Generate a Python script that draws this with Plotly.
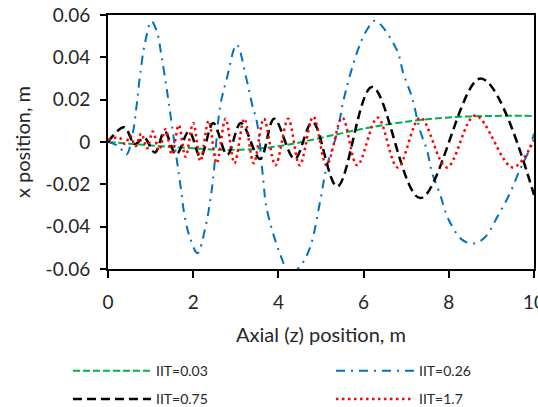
import plotly.graph_objects as go

# Axial position z (m) and transverse x position (m) for each IIT case
z_iit_003 = [0, 0.5, 1, 1.5, 2, 2.5, 3, 3.5, 4, 4.5, 5, 5.5, 6, 6.5, 7, 7.5, 8, 8.5, 9, 9.5, 10]
x_iit_003 = [0, -0.0008, -0.0016, -0.0024, -0.003, -0.0036, -0.0037, -0.0032, -0.002, -0.0002,
             0.002, 0.0042, 0.0063, 0.0081, 0.0096, 0.0108, 0.0116, 0.0121, 0.0123, 0.0124, 0.0123]

z_iit_026 = [0, 0.25, 0.43, 0.58, 0.67, 0.75, 0.87, 1.02, 1.15, 1.26, 1.38, 1.45, 1.69, 1.8, 1.92,
             2.1, 2.28, 2.39, 2.47, 2.63, 2.79, 3.02, 3.26, 3.38, 3.5, 3.65, 3.72, 4.04, 4.27, 4.5,
             4.74, 4.98, 5.13, 5.35, 5.47, 5.52, 5.84, 6.08, 6.27, 6.78, 6.93, 7.14, 7.32, 7.49,
             7.6, 7.8, 7.98, 8.3, 8.57, 8.85, 9.15, 9.44, 9.67, 9.86, 10]
x_iit_026 = [0, -0.002, -0.006, 0.004, 0.017, 0.031, 0.047, 0.057, 0.052, 0.040, 0.025, 0.015,
             -0.019, -0.035, -0.045, -0.0525, -0.041, -0.029, -0.017, 0.0166, 0.030, 0.046, 0.029,
             0.018, 0.009, -0.019, -0.031, -0.053, -0.062, -0.059, -0.050, -0.028, -0.012, 0.0024,
             0.0137, 0.019, 0.042, 0.053, 0.0573, 0.0435, 0.0326, 0.0208, 0.0057, -0.004, -0.014,
             -0.025, -0.036, -0.046, -0.048, -0.045, -0.035, -0.024, -0.013, -0.005, 0.004]

z_iit_075 = [0, 0.38, 0.63, 0.85, 1.1, 1.33, 1.6, 1.9, 2.17, 2.47, 2.8, 3.12, 3.57, 3.9, 4.38,
             4.8, 5.38, 6.2, 7.33, 8.75, 10]
x_iit_075 = [0, 0.007, -0.001, 0.002, -0.005, 0.005, -0.006, 0.005, -0.007, 0.009, -0.006, 0.009,
             -0.008, 0.011, -0.008, 0.0095, -0.021, 0.026, -0.0265, 0.030, -0.025]

z_iit_17 = [0, 0.27, 0.4, 0.52, 0.65, 0.78, 0.92, 1.05, 1.2, 1.35, 1.5, 1.66, 1.82, 2.0, 2.17,
            2.36, 2.55, 2.76, 2.97, 3.2, 3.42, 3.66, 3.93, 4.23, 4.5, 4.82, 5.13, 5.5, 5.85,
            6.33, 6.8, 7.33, 7.95, 8.62, 9.5, 10]
x_iit_17 = [0.001, 0.002, -0.001, 0.003, -0.002, 0.004, -0.003, 0.005, -0.004, 0.006, -0.006,
            0.008, -0.007, 0.009, -0.009, 0.010, -0.010, 0.011, -0.010, 0.011, -0.010, 0.011,
            -0.011, 0.011, -0.011, 0.012, -0.011, 0.0115, -0.011, 0.0115, -0.012, 0.0115,
            -0.012, 0.0125, -0.012, 0.001]

x_tick_vals = [0, 2, 4, 6, 8, 10]
x_tick_text = ["0", "2", "4", "6", "8", "10"]
y_tick_vals = [-0.06, -0.04, -0.02, 0, 0.02, 0.04, 0.06]
y_tick_text = ["-0.06", "-0.04", "-0.02", "0", "0.02", "0.04", "0.06"]

FONT = "Lato"
TEXT = "#262626"

# (label, z, x, colour, width, dash pattern, legend id)
series = [
    ("IIT=0.03", z_iit_003, x_iit_003, "#00B050", 2, "7px,3px", "legend"),
    ("IIT=0.26", z_iit_026, x_iit_026, "#0070C0", 2, "9px,6px,2px,6px", "legend2"),
    ("IIT=0.75", z_iit_075, x_iit_075, "#000000", 2.5, "9px,5px", "legend3"),
    ("IIT=1.7", z_iit_17, x_iit_17, "#FF0000", 2.5, "2.5px,3.5px", "legend4"),
]

fig = go.Figure()
for name, zs, xs, color, width, dash, leg in series:
    fig.add_trace(go.Scatter(
        x=zs, y=xs, name=name, mode="lines", legend=leg,
        line=dict(color=color, width=width, dash=dash, shape="spline", smoothing=1.0),
    ))

legend_common = dict(
    orientation="h", xanchor="left", yanchor="top",
    font=dict(family=FONT, size=14, color=TEXT),
    itemwidth=78, bgcolor="rgba(0,0,0,0)",
    itemclick=False, itemdoubleclick=False,
)
col1, col2 = -0.094, 0.5235
row1, row2 = -0.339, -0.45

fig.update_layout(
    width=538, height=407,
    margin=dict(l=108, r=4, t=15, b=138, pad=0, autoexpand=False),
    paper_bgcolor="white", plot_bgcolor="white",
    font=dict(family=FONT, color=TEXT),
    showlegend=True,
    legend=dict(x=col1, y=row1, **legend_common),
    legend2=dict(x=col2, y=row1, **legend_common),
    legend3=dict(x=col1, y=row2, **legend_common),
    legend4=dict(x=col2, y=row2, **legend_common),
    xaxis=dict(
        range=[0, 10], tickvals=x_tick_vals, ticktext=x_tick_text,
        ticks="outside", ticklen=7, tickwidth=2, tickcolor="black",
        showline=True, linecolor="black", linewidth=2, mirror=True,
        showgrid=False, zeroline=False, ticklabeloverflow="allow", automargin=False,
        tickfont=dict(family=FONT, size=19, color=TEXT),
        ticklabelstandoff=8,
        title=dict(text="Axial (z) position, m", font=dict(family=FONT, size=20, color=TEXT), standoff=16),
    ),
    yaxis=dict(
        range=[-0.06, 0.06], tickvals=y_tick_vals, ticktext=y_tick_text,
        ticks="outside", ticklen=6, tickwidth=2, tickcolor="black",
        showline=True, linecolor="black", linewidth=2, mirror=True,
        showgrid=False, zeroline=False, automargin=False,
        tickfont=dict(family=FONT, size=19, color=TEXT),
        ticklabelstandoff=6,
        title=dict(text="x position, m", font=dict(family=FONT, size=20, color=TEXT), standoff=10),
    ),
)

fig.write_html("out.html")
